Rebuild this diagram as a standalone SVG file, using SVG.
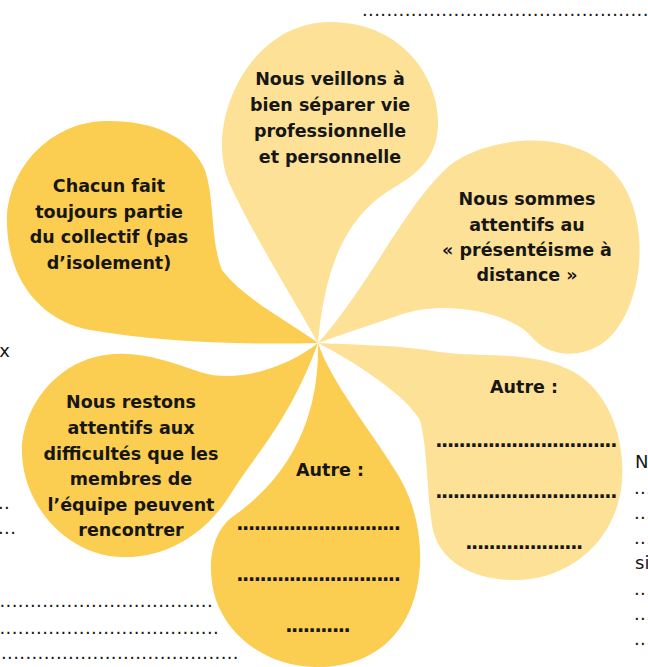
<svg xmlns="http://www.w3.org/2000/svg" width="648" height="667" viewBox="0 0 648 667">
<style>
.light{fill:#FDE196}
.dark{fill:#FBCD50}
.t{font-family:"DejaVu Sans","Liberation Sans",sans-serif;font-weight:bold;font-size:17.5px;fill:#161616;text-anchor:middle}
.bd{font-family:"DejaVu Sans","Liberation Sans",sans-serif;font-weight:bold;font-size:19px;fill:#161616;letter-spacing:-1.39px}
.o{font-family:"DejaVu Sans","Liberation Sans",sans-serif;font-size:18px;fill:#161616}
.od{font-family:"DejaVu Sans","Liberation Sans",sans-serif;font-size:18px;fill:#161616;letter-spacing:0.38px}
</style>
<rect width="648" height="667" fill="#ffffff"/>

<g id="outside-text">
<text class="od" x="362" y="16">................................................</text>
<text class="o" x="10" y="357" text-anchor="end">x</text>
<text class="od" x="-2" y="508.5">..</text>
<text class="od" x="-2" y="533.5">...</text>
<text class="od" x="-0.5" y="606.5">...................................</text>
<text class="od" x="-0.5" y="633.5">....................................</text>
<text class="od" x="1" y="658.5">.......................................</text>
<text class="o" x="635" y="468">N</text>
<text class="od" x="634" y="494">...</text>
<text class="od" x="634" y="519">...</text>
<text class="od" x="634" y="544">...</text>
<text class="o" x="635" y="569">si</text>
<text class="od" x="634" y="595">...</text>
<text class="od" x="634" y="620">...</text>
<text class="od" x="634" y="645">...</text>
</g>

<g id="connectors"></g>

<g id="petal-top">
<path class="light" d="M318,343 C300,310 250,230 228,180 C205,120 250,22 330,22 C410,22 445,90 437,135 C432,165 410,178 390,190 C350,215 325,260 318,343 Z"/>
<text class="t" x="330" y="85">Nous veillons à</text>
<text class="t" x="330" y="111">bien séparer vie</text>
<text class="t" x="330" y="137">professionnelle</text>
<text class="t" x="330" y="163">et personnelle</text>
</g>

<g id="petal-upper-right">
<path class="light" d="M318,343 C370,285 405,205 450,165 C490,135 580,125 620,180 C655,230 640,320 600,345 C575,360 545,355 530,335 C505,310 440,300 400,315 C370,325 340,335 318,343 Z"/>
<text class="t" x="527" y="205">Nous sommes</text>
<text class="t" x="527" y="230.5">attentifs au</text>
<text class="t" x="527" y="256">« présentéisme à</text>
<text class="t" x="527" y="281">distance »</text>
</g>

<g id="petal-lower-right">
<path class="light" d="M318,343 C360,345 400,345 440,352 C480,358 530,350 570,370 C610,390 625,440 622,480 C618,540 570,580 515,580 C470,580 440,560 433,530 C427,500 428,450 420,420 C405,395 360,365 318,343 Z"/>
<text class="t" x="524" y="393">Autre :</text>
<text class="bd" x="435.3" y="447">...............................</text>
<text class="bd" x="435.3" y="498">...............................</text>
<text class="bd" x="465.3" y="549">....................</text>
</g>

<g id="petal-bottom">
<path class="dark" d="M318,343 C330,380 370,430 395,470 C425,515 428,580 405,620 C385,655 350,668 315,667 C270,666 230,640 216,600 C205,565 212,530 235,515 C270,490 320,440 318,343 Z"/>
<text class="t" x="330" y="476">Autre :</text>
<text class="bd" x="236.3" y="530">............................</text>
<text class="bd" x="236.3" y="581">............................</text>
<text class="bd" x="285.3" y="632">...........</text>
</g>

<g id="petal-lower-left">
<path class="dark" d="M318,343 C290,365 240,385 200,372 C170,362 140,350 105,355 C55,362 20,410 22,455 C25,510 70,555 120,557 C165,559 205,535 230,495 C255,455 290,420 318,343 Z"/>
<text class="t" x="131" y="408">Nous restons</text>
<text class="t" x="131" y="434">attentifs aux</text>
<text class="t" x="131" y="459.5">difficultés que les</text>
<text class="t" x="131" y="485">membres de</text>
<text class="t" x="131" y="510.5">l’équipe peuvent</text>
<text class="t" x="131" y="536">rencontrer</text>
</g>

<g id="petal-upper-left">
<path class="dark" d="M318,343 C290,322 245,300 222,270 C210,240 215,200 205,170 C190,135 150,120 105,121 C50,122 5,170 7,225 C9,285 45,322 90,330 C160,342 240,345 318,343 Z"/>
<text class="t" x="109" y="192">Chacun fait</text>
<text class="t" x="109" y="217.5">toujours partie</text>
<text class="t" x="109" y="243">du collectif (pas</text>
<text class="t" x="109" y="268.5">d’isolement)</text>
</g>
</svg>
